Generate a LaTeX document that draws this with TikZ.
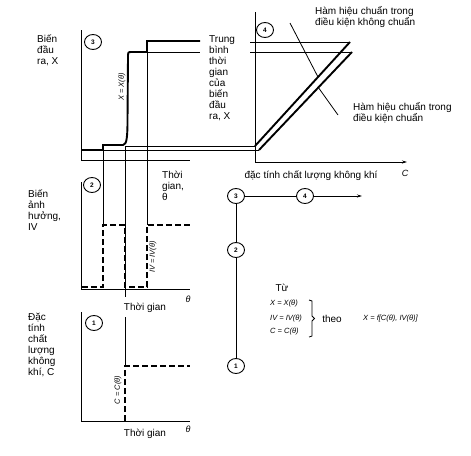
\documentclass[tikz,border=0pt]{standalone}
\usepackage{fontspec}
\setmainfont{Liberation Sans}
\usetikzlibrary{shapes.geometric,arrows.meta}
\begin{document}
\begin{tikzpicture}[x=1pt,y=-1pt,
  thinln/.style={line width=0.8pt},
  thickln/.style={line width=1.9pt},
  dashln/.style={line width=1.9pt, dash pattern=on 6pt off 3pt},
  num/.style={draw, ellipse, line width=0.9pt, minimum width=17pt, minimum height=15pt, inner sep=0pt, font=\fontsize{6.5}{7}\selectfont\bfseries},
  lbl/.style={align=left, anchor=west, inner sep=0pt, font=\fontsize{10}{11}\selectfont},
  txt/.style={inner sep=0pt, font=\fontsize{10}{11}\selectfont},
  frm/.style={inner sep=0pt, font=\fontsize{7.5}{9}\selectfont\itshape},
]
\useasboundingbox (0,0) rectangle (471,455);

% ---------- panel 3 ----------
\coordinate (p3top) at (81,30);
\coordinate (p3o) at (81,160);
\coordinate (p3x) at (190,160);
\draw[thinln] (p3top) -- (p3o) -- (p3x);
\node[num] (c3) at (93,42) {3};
\draw[thickln] (81,150) -- (103,150) -- (103,145) -- (123,145)
  .. controls (127,145) and (127.5,135) .. (127.5,120) -- (128,57)
  .. controls (128,52) .. (132,52) -- (147,52) -- (147,41) -- (200,41);
\draw[thinln] (147,52) -- (200,52);
\draw[thinln] (125,146) -- (256,146);
\draw[thinln] (81,150) -- (259,150);
\draw[thinln] (103,145) -- (103,225);
\draw[thinln] (125,146) -- (125,297);
\draw[thinln] (147,41) -- (147,225);
\draw[thinln] (125,317) -- (125,366);
\node[frm, rotate=90] (lx) at (122,87) {X = X(θ)};
\node[lbl] (l3) at (37,50) {Biến\\đầu\\ra, X};
\node[lbl] (avg) at (209,78) {Trung\\bình\\thời\\gian\\của\\biến\\đầu\\ra, X};

% ---------- panel 4 ----------
\coordinate (p4top) at (255,12);
\coordinate (p4o) at (255,162);
\coordinate (p4x) at (407,162);
\draw[thinln] (p4top) -- (p4o);
\draw[thinln, -{Stealth[length=5pt,width=3pt]}] (p4o) -- (p4x);
\node[num] (c4) at (265,30) {4};
\draw[thinln] (250,42) -- (350,42);
\draw[thinln] (250,52) -- (352,52);
\draw[thickln] (255,146) -- (350,42);
\draw[thickln] (259,150) -- (352,52);
\node[lbl] (h1) at (315,17) {Hàm hiệu chuẩn trong\\điều kiện không chuẩn};
\node[lbl] (h2) at (353,113) {Hàm hiệu chuẩn trong\\điều kiện chuẩn};
\coordinate (h1a) at (290,23);
\coordinate (h1b) at (318,77);
\coordinate (h2a) at (338,115);
\coordinate (h2b) at (318,87);
\draw[thinln] (h1a) -- (h1b);
\draw[thinln] (h2a) -- (h2b);
\node[txt] (xq) at (311,176) {đặc tính chất lượng không khí};
\node[txt, font=\fontsize{9}{10}\selectfont\itshape] (xc) at (405,173) {C};

% ---------- panel 2 ----------
\coordinate (p2top) at (81,182);
\coordinate (p2o) at (81,289);
\coordinate (p2x) at (190,289);
\draw[thinln] (p2top) -- (p2o) -- (p2x);
\node[num] (c2) at (92,185) {2};
\draw[dashln] (82,287) -- (103,287) -- (103,225) -- (125,225) -- (125,287)
  -- (147,287) -- (147,225) -- (190,225);
\node[frm, rotate=90] (liv) at (153,257) {IV = IV(θ)};
\node[lbl] (l2) at (28,210) {Biến\\ảnh\\hưởng,\\IV};
\node[lbl] (t3) at (162,186) {Thời\\gian,\\θ};
\node[txt, font=\fontsize{9}{10}\selectfont\itshape] (th2) at (188,299) {θ};
\node[txt] (tg2) at (145,308) {Thời gian};

% ---------- panel 1 ----------
\coordinate (p1top) at (81,312);
\coordinate (p1o) at (81,421);
\coordinate (p1x) at (190,421);
\draw[thinln] (p1top) -- (p1o) -- (p1x);
\node[num] (c1) at (94,323) {1};
\draw[dashln] (125,421) -- (125,366) -- (190,366);
\node[frm, rotate=90] (lc) at (118,390) {C = C(θ)};
\node[lbl] (l1) at (28,345) {Đặc\\tính\\chất\\lượng\\không\\khí, C};
\node[txt, font=\fontsize{9}{10}\selectfont\itshape] (th1) at (188,429) {θ};
\node[txt] (tg1) at (145,434) {Thời gian};

% ---------- flow ----------
\node[num, fill=white] (f3) at (236,196) {3};
\node[num, fill=white] (f4) at (305,196) {4};
\node[num, fill=white] (f2) at (236,250) {2};
\node[num, fill=white] (f1) at (236,366) {1};
\coordinate (fend) at (362,196);
\draw[thinln] (f3) -- (f4);
\draw[thinln, -{Stealth[length=5pt,width=3pt]}] (f4) -- (fend);
\draw[thinln] (f3) -- (f2);
\draw[thinln] (f2) -- (f1);

% ---------- relations ----------
\node[txt] (tu) at (282,288) {Từ};
\node[frm, anchor=west] (r1) at (270,304) {X = X(θ)};
\node[frm, anchor=west] (r2) at (270,319) {IV = IV(θ)};
\node[frm, anchor=west] (r3) at (270,332) {C = C(θ)};
\draw[thinln] (309,300) -- (312,301) -- (312,316) -- (314.5,318.5) -- (312,321) -- (312,336) -- (309,337);
\node[txt] (theo) at (332,319) {theo};
\node[frm, anchor=west] (rf) at (363,319) {X = f[C(θ), IV(θ)]};
\end{tikzpicture}
\end{document}
